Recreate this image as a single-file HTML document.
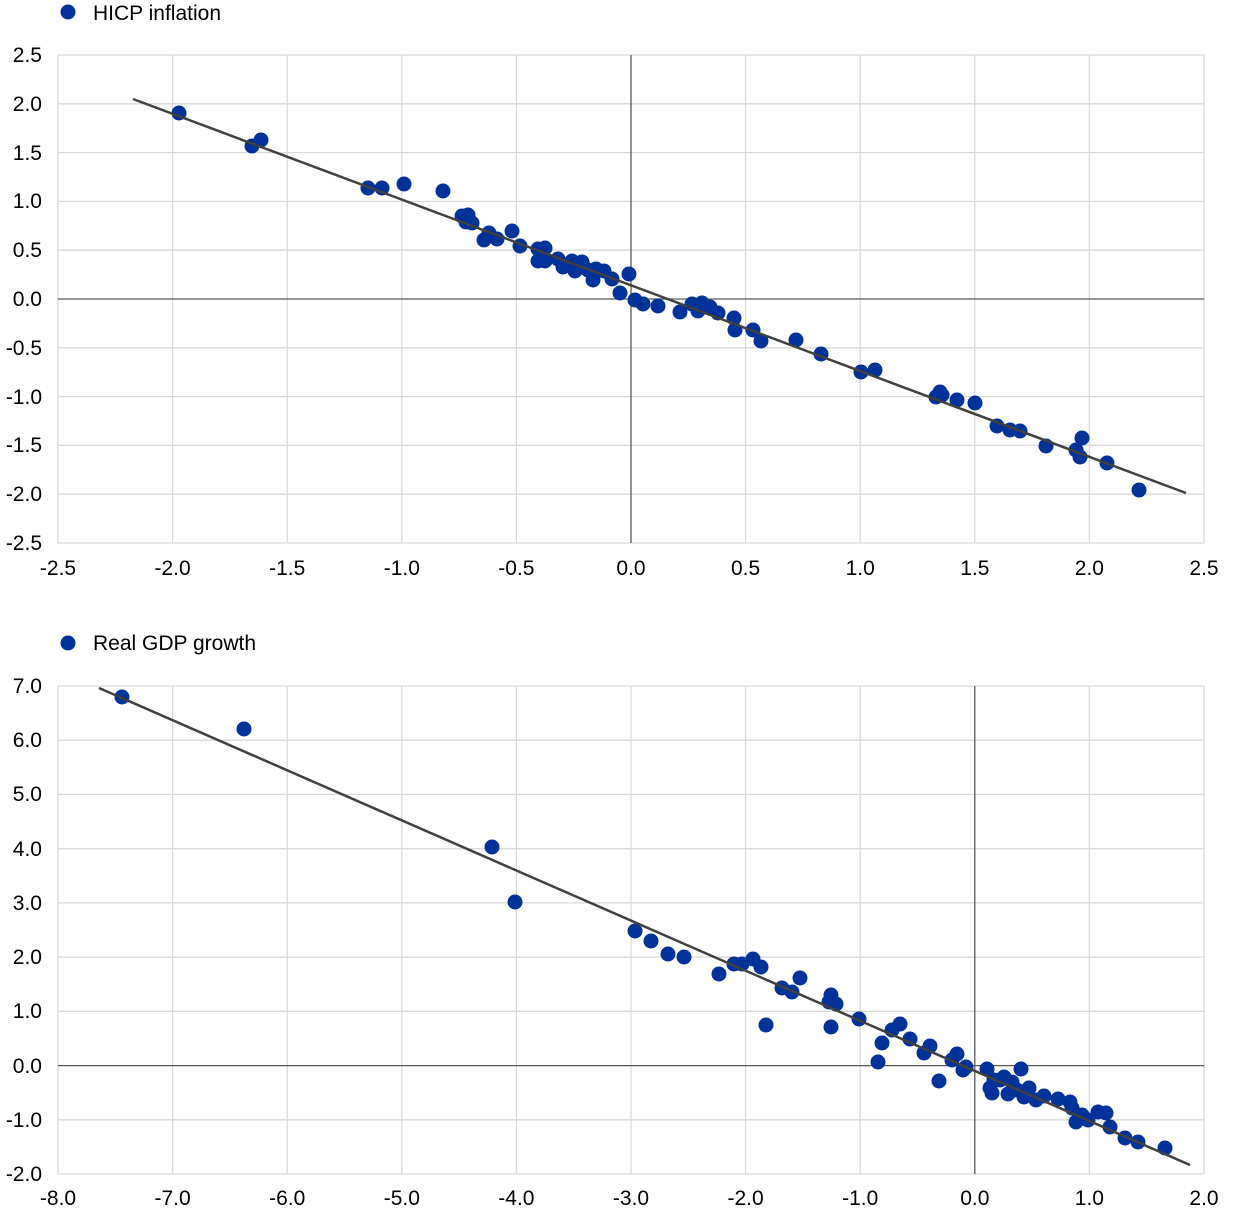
<!DOCTYPE html>
<html><head><meta charset="utf-8"><style>
body{margin:0;background:#fff}
svg text{font-family:"Liberation Sans",Arial,sans-serif;font-size:21px;fill:#000}
</style></head><body>
<svg width="1240" height="1220" viewBox="0 0 1240 1220" xmlns="http://www.w3.org/2000/svg">
<g stroke="#d9d9d9" stroke-width="1.3" fill="none">
<path d="M58 55V543M172.6 55V543M287.2 55V543M401.8 55V543M516.4 55V543M745.6 55V543M860.2 55V543M974.8 55V543M1089.4 55V543M1204 55V543"/>
<path d="M58 55H1204M58 103.8H1204M58 152.6H1204M58 201.4H1204M58 250.2H1204M58 347.8H1204M58 396.6H1204M58 445.4H1204M58 494.2H1204M58 543H1204"/>
<path d="M58 686V1174M172.6 686V1174M287.2 686V1174M401.8 686V1174M516.4 686V1174M631 686V1174M745.6 686V1174M860.2 686V1174M1089.4 686V1174M1204 686V1174"/>
<path d="M58 686H1204M58 740.2H1204M58 794.4H1204M58 848.7H1204M58 902.9H1204M58 957.1H1204M58 1011.3H1204M58 1119.8H1204M58 1174H1204"/>
</g>
<g stroke="#595959" stroke-width="1.3">
<path d="M631 55V543M58 299H1204M974.8 686V1174M58 1065.6H1204"/>
</g>
<g fill="#003299">
<circle cx="68" cy="12" r="7.5"/><circle cx="68" cy="643" r="7.5"/>
</g>
<text x="93" y="20">HICP inflation</text>
<text x="93" y="650">Real GDP growth</text>
<g text-anchor="end">
<text x="42" y="62">2.5</text><text x="42" y="111">2.0</text><text x="42" y="160">1.5</text><text x="42" y="208">1.0</text><text x="42" y="257">0.5</text><text x="42" y="306">0.0</text><text x="42" y="355">-0.5</text><text x="42" y="404">-1.0</text><text x="42" y="452">-1.5</text><text x="42" y="501">-2.0</text><text x="42" y="550">-2.5</text>
<text x="42" y="693">7.0</text><text x="42" y="747">6.0</text><text x="42" y="801">5.0</text><text x="42" y="856">4.0</text><text x="42" y="910">3.0</text><text x="42" y="964">2.0</text><text x="42" y="1018">1.0</text><text x="42" y="1073">0.0</text><text x="42" y="1127">-1.0</text><text x="42" y="1181">-2.0</text>
</g>
<g text-anchor="middle">
<text x="58" y="575">-2.5</text><text x="172.6" y="575">-2.0</text><text x="287.2" y="575">-1.5</text><text x="401.8" y="575">-1.0</text><text x="516.4" y="575">-0.5</text><text x="631" y="575">0.0</text><text x="745.6" y="575">0.5</text><text x="860.2" y="575">1.0</text><text x="974.8" y="575">1.5</text><text x="1089.4" y="575">2.0</text><text x="1204" y="575">2.5</text>
<text x="58" y="1205">-8.0</text><text x="172.6" y="1205">-7.0</text><text x="287.2" y="1205">-6.0</text><text x="401.8" y="1205">-5.0</text><text x="516.4" y="1205">-4.0</text><text x="631" y="1205">-3.0</text><text x="745.6" y="1205">-2.0</text><text x="860.2" y="1205">-1.0</text><text x="974.8" y="1205">0.0</text><text x="1089.4" y="1205">1.0</text><text x="1204" y="1205">2.0</text>
</g>
<g fill="#003299">
<circle cx="179" cy="113" r="7.5"/><circle cx="252" cy="146" r="7.5"/><circle cx="261" cy="140" r="7.5"/><circle cx="368" cy="188" r="7.5"/><circle cx="382" cy="188" r="7.5"/><circle cx="404" cy="184" r="7.5"/><circle cx="443" cy="191" r="7.5"/><circle cx="462" cy="216" r="7.5"/><circle cx="468" cy="215" r="7.5"/><circle cx="466" cy="222" r="7.5"/><circle cx="472" cy="223" r="7.5"/><circle cx="484" cy="240" r="7.5"/><circle cx="489" cy="233" r="7.5"/><circle cx="497" cy="239" r="7.5"/><circle cx="512" cy="231" r="7.5"/><circle cx="520" cy="246" r="7.5"/><circle cx="538" cy="249" r="7.5"/><circle cx="545" cy="248" r="7.5"/><circle cx="538" cy="261" r="7.5"/><circle cx="545" cy="261" r="7.5"/><circle cx="558" cy="259" r="7.5"/><circle cx="563" cy="267" r="7.5"/><circle cx="572" cy="261" r="7.5"/><circle cx="575" cy="271" r="7.5"/><circle cx="582" cy="262" r="7.5"/><circle cx="588" cy="270" r="7.5"/><circle cx="593" cy="280" r="7.5"/><circle cx="596" cy="269" r="7.5"/><circle cx="604" cy="271" r="7.5"/><circle cx="612" cy="279" r="7.5"/><circle cx="620" cy="293" r="7.5"/><circle cx="629" cy="274" r="7.5"/><circle cx="635" cy="300" r="7.5"/><circle cx="643" cy="304" r="7.5"/><circle cx="658" cy="306" r="7.5"/><circle cx="680" cy="312" r="7.5"/><circle cx="692" cy="304" r="7.5"/><circle cx="698" cy="311" r="7.5"/><circle cx="702" cy="303" r="7.5"/><circle cx="710" cy="307" r="7.5"/><circle cx="718" cy="313" r="7.5"/><circle cx="734" cy="318" r="7.5"/><circle cx="735" cy="330" r="7.5"/><circle cx="753" cy="330" r="7.5"/><circle cx="761" cy="341" r="7.5"/><circle cx="796" cy="340" r="7.5"/><circle cx="821" cy="354" r="7.5"/><circle cx="861" cy="372" r="7.5"/><circle cx="875" cy="370" r="7.5"/><circle cx="936" cy="397" r="7.5"/><circle cx="940" cy="392" r="7.5"/><circle cx="942" cy="395" r="7.5"/><circle cx="957" cy="400" r="7.5"/><circle cx="975" cy="403" r="7.5"/><circle cx="997" cy="426" r="7.5"/><circle cx="1010" cy="430" r="7.5"/><circle cx="1020" cy="431" r="7.5"/><circle cx="1046" cy="446" r="7.5"/><circle cx="1076" cy="450" r="7.5"/><circle cx="1080" cy="457" r="7.5"/><circle cx="1082" cy="438" r="7.5"/><circle cx="1107" cy="463" r="7.5"/><circle cx="1139" cy="490" r="7.5"/>
<circle cx="122" cy="697" r="7.5"/><circle cx="244" cy="729" r="7.5"/><circle cx="492" cy="847" r="7.5"/><circle cx="515" cy="902" r="7.5"/><circle cx="635" cy="931" r="7.5"/><circle cx="651" cy="941" r="7.5"/><circle cx="668" cy="954" r="7.5"/><circle cx="684" cy="957" r="7.5"/><circle cx="719" cy="974" r="7.5"/><circle cx="734" cy="964" r="7.5"/><circle cx="742" cy="964" r="7.5"/><circle cx="753" cy="959" r="7.5"/><circle cx="761" cy="967" r="7.5"/><circle cx="766" cy="1025" r="7.5"/><circle cx="782" cy="988" r="7.5"/><circle cx="792" cy="992" r="7.5"/><circle cx="800" cy="978" r="7.5"/><circle cx="829" cy="1002" r="7.5"/><circle cx="831" cy="995" r="7.5"/><circle cx="836" cy="1004" r="7.5"/><circle cx="831" cy="1027" r="7.5"/><circle cx="859" cy="1019" r="7.5"/><circle cx="878" cy="1062" r="7.5"/><circle cx="882" cy="1043" r="7.5"/><circle cx="892" cy="1030" r="7.5"/><circle cx="900" cy="1024" r="7.5"/><circle cx="910" cy="1039" r="7.5"/><circle cx="924" cy="1053" r="7.5"/><circle cx="930" cy="1046" r="7.5"/><circle cx="939" cy="1081" r="7.5"/><circle cx="952" cy="1060" r="7.5"/><circle cx="957" cy="1054" r="7.5"/><circle cx="963" cy="1070" r="7.5"/><circle cx="966" cy="1067" r="7.5"/><circle cx="987" cy="1069" r="7.5"/><circle cx="990" cy="1088" r="7.5"/><circle cx="994" cy="1080" r="7.5"/><circle cx="992" cy="1093" r="7.5"/><circle cx="1000" cy="1080" r="7.5"/><circle cx="1004" cy="1077" r="7.5"/><circle cx="1008" cy="1094" r="7.5"/><circle cx="1012" cy="1082" r="7.5"/><circle cx="1017" cy="1090" r="7.5"/><circle cx="1021" cy="1069" r="7.5"/><circle cx="1024" cy="1097" r="7.5"/><circle cx="1029" cy="1088" r="7.5"/><circle cx="1036" cy="1100" r="7.5"/><circle cx="1044" cy="1096" r="7.5"/><circle cx="1058" cy="1099" r="7.5"/><circle cx="1070" cy="1102" r="7.5"/><circle cx="1072" cy="1108" r="7.5"/><circle cx="1076" cy="1122" r="7.5"/><circle cx="1082" cy="1115" r="7.5"/><circle cx="1088" cy="1120" r="7.5"/><circle cx="1098" cy="1112" r="7.5"/><circle cx="1106" cy="1113" r="7.5"/><circle cx="1110" cy="1127" r="7.5"/><circle cx="1125" cy="1138" r="7.5"/><circle cx="1138" cy="1142" r="7.5"/><circle cx="1165" cy="1148" r="7.5"/>
</g>
<g stroke="#404040" stroke-width="2.5">
<path d="M133 99L1186 493"/>
<path d="M99 688L1190 1165"/>
</g>
</svg>
</body></html>
